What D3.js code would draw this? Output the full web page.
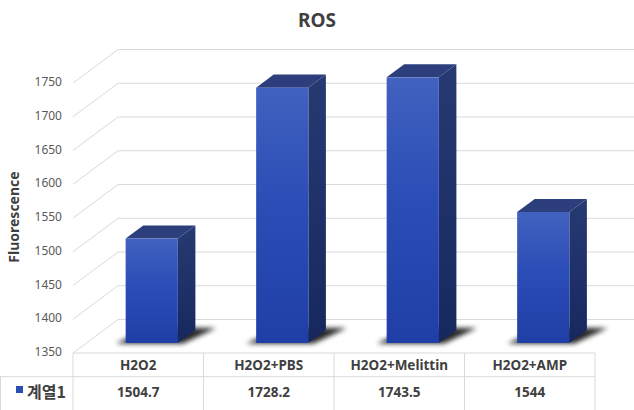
<!DOCTYPE html>
<html>
<head>
<meta charset="utf-8">
<script src="https://cdn.jsdelivr.net/npm/d3@7"></script>
<style>
  body { margin: 0; background: #fff; }
  svg { display: block; font-family: 'Noto Sans', 'Noto Sans CJK KR', sans-serif; }
</style>
</head>
<body>
<div id="chart"></div>
<script>
// data
const categories = ['H2O2', 'H2O2+PBS', 'H2O2+Melittin', 'H2O2+AMP']
const values = [1504.7, 1728.2, 1743.5, 1544]
const valueLabels = ['1504.7', '1728.2', '1743.5', '1544']
const yTicks = [1350, 1400, 1450, 1500, 1550, 1600, 1650, 1700, 1750]
const seriesName = '계열1'
const chartTitle = 'ROS'
const yTitle = 'Fluorescence'

var svgWidth = 634, svgHeight = 410

// 3d depth offsets (back wall relative to front plane)
var depth = { dx: 45, dy: 33.5 }
var barDepth = [0.3, 0.69]

var svg = d3.select('#chart').append('svg')
  .attr('width', svgWidth).attr('height', svgHeight)

var x = d3.scaleBand().domain(categories).range([73, 595]).padding(0)
var y = d3.scaleLinear().domain([1350, 1750]).range([353, 83])

// project a point at front-plane x, value v and depth d (0 front, 1 back)
function P(px, v, d) {
  return [px + d * depth.dx, y(v) - d * depth.dy]
}

var defs = svg.append('defs')
var grad = defs.append('linearGradient').attr('id', 'front')
  .attr('x1', 0).attr('x2', 0).attr('y1', 0).attr('y2', 1)
grad.append('stop').attr('offset', '0%').attr('stop-color', '#4162bf')
grad.append('stop').attr('offset', '45%').attr('stop-color', '#2b4db6')
grad.append('stop').attr('offset', '100%').attr('stop-color', '#1f3fa6')
var sgrad = defs.append('linearGradient').attr('id', 'side')
  .attr('x1', 0).attr('x2', 0).attr('y1', 0).attr('y2', 1)
sgrad.append('stop').attr('offset', '0%').attr('stop-color', '#263a72')
sgrad.append('stop').attr('offset', '100%').attr('stop-color', '#17285e')
defs.append('filter').attr('id', 'blur')
  .attr('x', '-50%').attr('y', '-50%').attr('width', '200%').attr('height', '200%')
  .append('feGaussianBlur').attr('stdDeviation', 2.5)

// back wall grid
var grid = svg.append('g')
grid.selectAll('line.back').data(yTicks).enter().append('line')
  .attr('x1', d => P(73, d, 1)[0]).attr('y1', d => P(73, d, 1)[1])
  .attr('x2', d => P(595, d, 1)[0]).attr('y2', d => P(595, d, 1)[1])
  .attr('stroke', '#d9d9d9').attr('stroke-width', 1)
grid.selectAll('line.side').data(yTicks).enter().append('line')
  .attr('x1', d => P(73, d, 0)[0]).attr('y1', d => P(73, d, 0)[1])
  .attr('x2', d => P(73, d, 1)[0]).attr('y2', d => P(73, d, 1)[1])
  .attr('stroke', '#d9d9d9').attr('stroke-width', 1)

// y tick labels
svg.append('g').selectAll('text').data(yTicks).enter().append('text')
  .attr('x', 62).attr('y', d => y(d))
  .attr('text-anchor', 'end').attr('dominant-baseline', 'middle')
  .style('font-size', '12px').attr('fill', '#595959')
  .text(d => d)

// table
var rowTop = 353, rowMid = 376.7, rowBot = 420
var table = svg.append('g').attr('stroke', '#d9d9d9').attr('stroke-width', 1)
table.append('line').attr('x1', 73).attr('x2', 595).attr('y1', rowTop).attr('y2', rowTop)
table.append('line').attr('x1', 0).attr('x2', 595).attr('y1', rowMid).attr('y2', rowMid)
table.append('line').attr('x1', 0.5).attr('x2', 0.5).attr('y1', rowMid).attr('y2', rowBot)
table.selectAll('line.v').data(categories.concat(['end'])).enter().append('line')
  .attr('x1', (d, i) => 73 + i * x.bandwidth()).attr('x2', (d, i) => 73 + i * x.bandwidth())
  .attr('y1', rowTop).attr('y2', rowBot)

svg.append('g').selectAll('text').data(categories).enter().append('text')
  .attr('x', d => x(d) + x.bandwidth() / 2).attr('y', (rowTop + rowMid) / 2 + 1)
  .attr('text-anchor', 'middle').attr('dominant-baseline', 'middle')
  .style('font-size', '13.5px').style('font-weight', 700).attr('fill', '#404040')
  .text(d => d)
svg.append('g').selectAll('text').data(valueLabels).enter().append('text')
  .attr('x', (d, i) => x(categories[i]) + x.bandwidth() / 2).attr('y', 393)
  .attr('text-anchor', 'middle').attr('dominant-baseline', 'middle')
  .style('font-size', '13.5px').style('font-weight', 700).attr('fill', '#404040')
  .text(d => d)

svg.append('rect').attr('x', 16).attr('y', 386).attr('width', 7).attr('height', 7)
  .attr('fill', '#2b4db6')
svg.append('text').attr('x', 27).attr('y', 394)
  .attr('dominant-baseline', 'middle')
  .style('font-family', "'Noto Sans CJK KR', sans-serif")
  .style('font-size', '16px').style('font-weight', 700).attr('fill', '#404040')
  .text(seriesName)

// bars
var bw = x.bandwidth() * 0.4
var bars = svg.append('g').selectAll('g').data(values).enter().append('g')

function poly(pts) { return 'M' + pts.map(p => p.join(',')).join('L') + 'Z' }

// shadow
bars.append('path')
  .attr('d', (d, i) => {
    var x0 = x(categories[i]) + (x.bandwidth() - bw) / 2
    return poly([P(x0 - 9, 1350, barDepth[0] - 0.02), P(x0 + bw + 6, 1350, barDepth[0] - 0.02),
      P(x0 + bw + 18, 1350, barDepth[1] + 0.06), P(x0 + 4, 1350, barDepth[1] + 0.06)])
  })
  .attr('fill', '#000').attr('opacity', 0.85).attr('filter', 'url(#blur)')

// top face
bars.append('path')
  .attr('d', (d, i) => {
    var x0 = x(categories[i]) + (x.bandwidth() - bw) / 2
    return poly([P(x0, d, barDepth[0]), P(x0 + bw, d, barDepth[0]),
      P(x0 + bw, d, barDepth[1]), P(x0, d, barDepth[1])])
  })
  .attr('fill', '#2c3f7c')
// side face
bars.append('path')
  .attr('d', (d, i) => {
    var x0 = x(categories[i]) + (x.bandwidth() - bw) / 2
    return poly([P(x0 + bw, d, barDepth[0]), P(x0 + bw, d, barDepth[1]),
      P(x0 + bw, 1350, barDepth[1]), P(x0 + bw, 1350, barDepth[0])])
  })
  .attr('fill', 'url(#side)')
// front face
bars.append('rect')
  .attr('x', (d, i) => P(x(categories[i]) + (x.bandwidth() - bw) / 2, d, barDepth[0])[0])
  .attr('y', d => P(0, d, barDepth[0])[1])
  .attr('width', bw)
  .attr('height', d => P(0, 1350, barDepth[0])[1] - P(0, d, barDepth[0])[1])
  .attr('fill', 'url(#front)')

// titles
svg.append('text').attr('x', 317).attr('y', 22)
  .attr('text-anchor', 'middle').attr('dominant-baseline', 'middle')
  .style('font-size', '19px').style('font-weight', 700).attr('fill', '#404040')
  .text(chartTitle)
svg.append('text')
  .attr('transform', 'translate(15,217) rotate(-90)')
  .attr('text-anchor', 'middle').attr('dominant-baseline', 'middle')
  .style('font-size', '14px').style('font-weight', 700).attr('fill', '#404040')
  .text(yTitle)
</script>
</body>
</html>
